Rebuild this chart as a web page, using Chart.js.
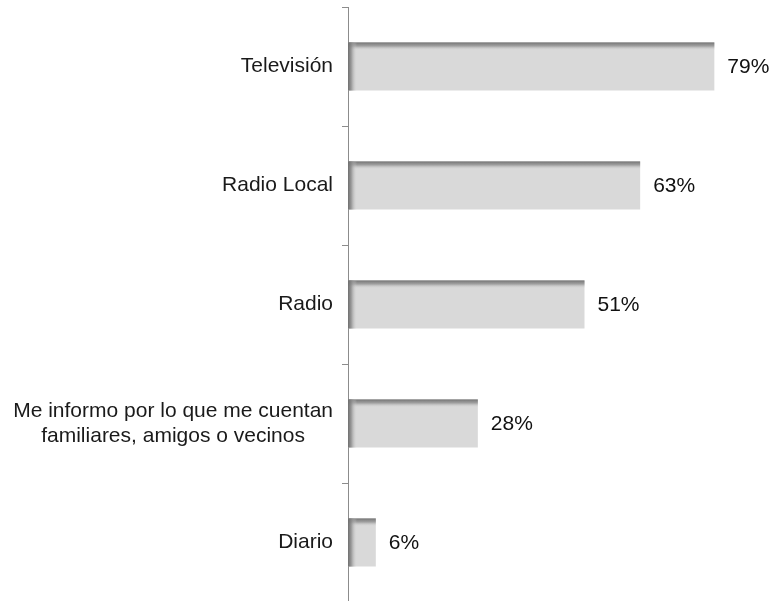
<!DOCTYPE html>
<html>
<head>
<meta charset="utf-8">
<script src="https://cdn.jsdelivr.net/npm/chart.js@4/dist/chart.umd.min.js"></script>
<style>
  html,body{margin:0;padding:0;background:#fff;overflow:hidden;width:770px;height:601px}
  #wrap{width:770px;height:612px;position:relative}
</style>
</head>
<body>
<div id="wrap"><canvas id="c"></canvas></div>
<script>
// medios por los que se informa
const categories=['Televisión','Radio Local','Radio',['Me informo por lo que me cuentan','familiares, amigos o vecinos'],'Diario'];
const values=[79,63,51,28,6];

const FONT='21px "Liberation Sans", Arial, sans-serif';

// shaded edges on each bar (top + left), like a bevel
const bevel={
  id:'bevel',
  afterDatasetsDraw(chart){
    const ctx=chart.ctx;
    chart.getDatasetMeta(0).data.forEach(b=>{
      const l=b.base,r=b.x,t=b.y-b.height/2,h=b.height;
      let g=ctx.createLinearGradient(0,t,0,t+8);
      g.addColorStop(0,'rgba(115,115,115,1)');
      g.addColorStop(0.45,'rgba(145,145,145,0.8)');
      g.addColorStop(1,'rgba(217,217,217,0)');
      ctx.save();
      ctx.fillStyle=g;ctx.fillRect(l,t,r-l,8);
      g=ctx.createLinearGradient(l,0,l+9,0);
      g.addColorStop(0,'rgba(110,110,110,1)');
      g.addColorStop(0.35,'rgba(135,135,135,0.8)');
      g.addColorStop(1,'rgba(217,217,217,0)');
      ctx.fillStyle=g;ctx.fillRect(l,t,Math.min(9,r-l),h);
      ctx.restore();
    });
  }
};

// value labels after the bar ends + category labels (lines centred on each other)
const labels={
  id:'labels',
  afterDraw(chart){
    const ctx=chart.ctx, y=chart.scales.y;
    ctx.save();
    ctx.font=FONT;
    ctx.fillStyle='#111';
    ctx.textBaseline='middle';
    chart.getDatasetMeta(0).data.forEach((b,i)=>{
      ctx.textAlign='left';
      ctx.fillText(values[i]+'%',b.x+13,b.y+1);
    });
    ctx.fillStyle='#1a1a1a';
    ctx.textAlign='center';
    categories.forEach((c,i)=>{
      const lines=Array.isArray(c)?c:[c];
      const w=Math.max(...lines.map(s=>ctx.measureText(s).width));
      const cx=y.right-15-w/2, cy=y.getPixelForTick(i);
      const lh=25;
      lines.forEach((s,k)=>ctx.fillText(s,cx,cy+(k-(lines.length-1)/2)*lh));
    });
    ctx.restore();
  }
};

new Chart(document.getElementById('c'),{
  type:'bar',
  data:{labels:categories,datasets:[{data:values,backgroundColor:'#d9d9d9',borderWidth:0,barPercentage:0.405,categoryPercentage:1}]},
  options:{
    indexAxis:'y',responsive:true,maintainAspectRatio:false,animation:false,
    layout:{padding:{top:7,bottom:10,right:0,left:0}},
    plugins:{legend:{display:false},tooltip:{enabled:false}},
    scales:{
      x:{display:false,min:0,max:91},
      y:{
        afterFit(s){s.width=348;},
        ticks:{display:false},
        grid:{drawOnChartArea:false,tickLength:6,color:'#8c8c8c',offset:true},
        border:{color:'#8c8c8c',width:1}
      }
    }
  },
  plugins:[bevel,labels]
});
</script>
</body>
</html>
